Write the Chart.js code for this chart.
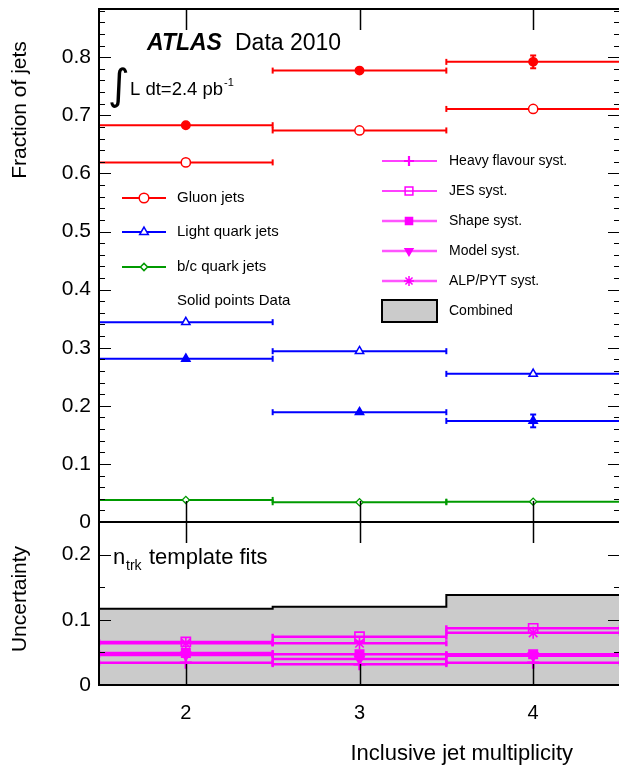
<!DOCTYPE html>
<html><head><meta charset="utf-8">
<script src="https://cdn.jsdelivr.net/npm/chart.js@4.4.1/dist/chart.umd.min.js"></script>
<style>
html,body{margin:0;padding:0;overflow:hidden;background:#fff;width:619px;height:766px}
#wrap{position:absolute;left:0;top:0;width:621px;height:766px}
</style></head>
<body><div id="wrap"><canvas id="c" width="621" height="766"></canvas></div>
<script>
// ---- data ----
const binEdges = [1.5, 2.5, 3.5, 4.5];
const binCenters = [2, 3, 4];
const xTickLabels = ['2', '3', '4'];
const yTopTicks = [0, 0.1, 0.2, 0.3, 0.4, 0.5, 0.6, 0.7, 0.8];
const yTopTickLabels = ['0', '0.1', '0.2', '0.3', '0.4', '0.5', '0.6', '0.7', '0.8'];
const yBotTicks = [0, 0.1, 0.2];
const yBotTickLabels = ['0', '0.1', '0.2'];

const gluonData = [0.683, 0.777, 0.792];
const gluonDataErr = [0, 0, 0.011];
const gluonMC = [0.619, 0.674, 0.711];
const lightData = [0.281, 0.189, 0.174];
const lightDataErr = [0, 0, 0.011];
const lightMC = [0.344, 0.294, 0.255];
const bcMC = [0.038, 0.034, 0.035];

const hfSyst = [0.034, 0.032, 0.034];
const jesSyst = [0.066, 0.074, 0.087];
const shapeSyst = [0.049, 0.047, 0.047];
const modelSyst = [0.046, 0.040, 0.045];
const alpSyst = [0.064, 0.064, 0.080];
const combinedSyst = [0.117, 0.120, 0.138];

// ---- helpers ----
const FONT = '"Liberation Sans", Arial, Helvetica, sans-serif';
const RED = '#ff0000', BLUE = '#0000ff', GREEN = '#009a00', MAG = '#ff00ff', MAG2 = '#ff55ff';

function binLines(vals) {
  const d = [];
  vals.forEach((v, i) => { d.push({x: binEdges[i], y: v}, {x: binEdges[i + 1], y: v}, {x: binEdges[i + 1], y: null}); });
  return d;
}
function centers(vals) { return vals.map((v, i) => ({x: binCenters[i], y: v})); }
function vErr(vals, errs) {
  const d = [];
  vals.forEach((v, i) => { if (errs[i] > 0) d.push({x: binCenters[i], y: v - errs[i]}, {x: binCenters[i], y: v + errs[i]}, {x: binCenters[i], y: null}); });
  return d;
}
function stepData(vals) {
  const d = [];
  vals.forEach((v, i) => { d.push({x: binEdges[i], y: v}, {x: binEdges[i + 1], y: v}); });
  return d;
}
function hbar(vals, color, axis, w) {
  return {type: 'line', data: binLines(vals), yAxisID: axis, borderColor: color, backgroundColor: color,
    borderWidth: w || 2, pointStyle: 'line', pointRotation: 90, pointRadius: 3, pointBorderWidth: w || 2,
    pointBorderColor: color, spanGaps: false, fill: false, tension: 0};
}
function vbar(vals, errs, color, axis) {
  return {type: 'line', data: vErr(vals, errs), yAxisID: axis, borderColor: color, borderWidth: 2,
    pointStyle: 'line', pointRotation: 0, pointRadius: 3, pointBorderWidth: 2, pointBorderColor: color,
    spanGaps: false, fill: false};
}
function marks(vals, color, axis, style, r, fillColor, rot, bw) {
  return {type: 'line', showLine: false, data: centers(vals), yAxisID: axis, pointStyle: style,
    pointRadius: r, pointRotation: rot || 0, pointBackgroundColor: fillColor, pointBorderColor: color,
    pointBorderWidth: bw || 1.5};
}

const datasets = [
  // markers (drawn on top)
  marks(gluonData, RED, 'yTop', 'circle', 4.2, RED),
  marks(gluonMC, RED, 'yTop', 'circle', 4.6, '#ffffff'),
  marks(lightData, BLUE, 'yTop', 'triangle', 4.8, BLUE),
  marks(lightMC, BLUE, 'yTop', 'triangle', 4.8, '#ffffff'),
  marks(bcMC, GREEN, 'yTop', 'rectRot', 3.6, '#ffffff', 0, 1.3),
  marks(hfSyst, MAG, 'yBot', 'cross', 6, 'rgba(0,0,0,0)', 0, 2.5),
  marks(jesSyst, MAG, 'yBot', 'rect', 6.5, 'rgba(0,0,0,0)', 0, 1.6),
  marks(shapeSyst, MAG, 'yBot', 'rect', 6, MAG),
  marks(modelSyst, MAG, 'yBot', 'triangle', 5.5, MAG, 180),
  marks(alpSyst, MAG, 'yBot', 'star', 6, 'rgba(0,0,0,0)', 0, 1.6),
  // error bars
  vbar(gluonData, gluonDataErr, RED, 'yTop'),
  vbar(lightData, lightDataErr, BLUE, 'yTop'),
  hbar(gluonData, RED, 'yTop'),
  hbar(gluonMC, RED, 'yTop'),
  hbar(lightData, BLUE, 'yTop'),
  hbar(lightMC, BLUE, 'yTop'),
  hbar(bcMC, GREEN, 'yTop'),
  hbar(hfSyst, MAG, 'yBot', 2.5),
  hbar(jesSyst, MAG, 'yBot', 2.5),
  hbar(shapeSyst, MAG, 'yBot', 2.5),
  hbar(modelSyst, MAG, 'yBot', 2.5),
  hbar(alpSyst, MAG, 'yBot', 2.5),
  // combined band (drawn first)
  {type: 'line', data: stepData(combinedSyst), yAxisID: 'yBot', borderColor: '#000000', borderWidth: 2,
    backgroundColor: '#cbcbcb', fill: 'origin', pointRadius: 0, tension: 0}
];

function txt(ctx, s, x, y, font, align, base) {
  ctx.font = font; ctx.textAlign = align || 'left'; ctx.textBaseline = base || 'alphabetic';
  ctx.fillStyle = '#000'; ctx.fillText(s, x, y);
}
function pt(ctx, style, r, rot, x, y, fill, stroke, bw) {
  ctx.save(); ctx.fillStyle = fill; ctx.strokeStyle = stroke; ctx.lineWidth = bw;
  if (Chart.helpers && Chart.helpers.drawPoint) {
    Chart.helpers.drawPoint(ctx, {pointStyle: style, radius: r, rotation: rot, borderWidth: bw}, x, y);
  } else { ctx.beginPath(); ctx.arc(x, y, r, 0, Math.PI * 2); ctx.fill(); ctx.stroke(); }
  ctx.restore();
}
function line(ctx, x1, y1, x2, y2, color, w) {
  ctx.beginPath(); ctx.strokeStyle = color; ctx.lineWidth = w; ctx.moveTo(x1, y1); ctx.lineTo(x2, y2); ctx.stroke();
}

const frameAndText = {
  id: 'frameAndText',
  afterDatasetsDraw(chart) {
    const ctx = chart.ctx, ca = chart.chartArea;
    const yT = chart.scales.yTop, yB = chart.scales.yBot, x = chart.scales.x;
    ctx.save();
    function yticks(scale, minorStep, max) {
      const n = Math.round(max / minorStep);
      for (let i = 0; i <= n; i++) {
        const v = i * minorStep;
        const isMajor = Math.abs(v * 10 - Math.round(v * 10)) < 1e-6;
        const len = isMajor ? 12 : 6;
        const p = Math.round(scale.getPixelForValue(v)) + 0.5;
        if (p < scale.top - 0.5 || p > scale.bottom + 1) continue;
        line(ctx, ca.left, p, ca.left + len, p, '#000', 1);
        line(ctx, ca.right, p, ca.right - len, p, '#000', 1);
      }
    }
    yticks(yT, 0.02, 0.88);
    yticks(yB, 0.05, 0.25);
    binCenters.forEach(v => {
      const p = Math.round(x.getPixelForValue(v)) + 0.5;
      line(ctx, p, yT.top, p, yT.top + 21, '#000', 1.5);
      line(ctx, p, yT.bottom, p, yT.bottom - 21, '#000', 1.5);
      line(ctx, p, yB.top, p, yB.top + 21, '#000', 1.5);
      line(ctx, p, yB.bottom, p, yB.bottom - 21, '#000', 1.5);
    });
    ctx.lineWidth = 2; ctx.strokeStyle = '#000';
    ctx.strokeRect(ca.left, yT.top, ca.right - ca.left, yT.bottom - yT.top);
    ctx.strokeRect(ca.left, yB.top, ca.right - ca.left, yB.bottom - yB.top);
    ctx.restore();
  },
  afterDraw(chart) {
    const ctx = chart.ctx;
    ctx.save();
    ctx.save(); ctx.translate(26, 110); ctx.rotate(-Math.PI / 2);
    txt(ctx, 'Fraction of jets', 0, 0, '21px ' + FONT, 'center'); ctx.restore();
    ctx.save(); ctx.translate(26, 599); ctx.rotate(-Math.PI / 2);
    txt(ctx, 'Uncertainty', 0, 0, '21px ' + FONT, 'center'); ctx.restore();
    txt(ctx, 'Inclusive jet multiplicity', 573, 760, '22px ' + FONT, 'right');
    txt(ctx, 'ATLAS', 147, 50, 'italic bold 23px ' + FONT);
    txt(ctx, 'Data 2010', 235, 50, '23px ' + FONT);
    txt(ctx, '\u222B', 108, 99, '42px "DejaVu Sans"');
    txt(ctx, 'L dt=2.4 pb', 130, 95, '18.5px ' + FONT);
    txt(ctx, '-1', 224, 86, '11px ' + FONT);
    txt(ctx, 'n', 113, 564, '22px ' + FONT);
    txt(ctx, 'trk', 126, 570, '14px ' + FONT);
    txt(ctx, 'template fits', 149, 564, '22px ' + FONT);
    const L = [
      ['Gluon jets', RED, 'circle', 4.8, 0, 198],
      ['Light quark jets', BLUE, 'triangle', 5, 0, 232],
      ['b/c quark jets', GREEN, 'rectRot', 3.6, 0, 267]
    ];
    L.forEach(r => {
      line(ctx, 122, r[5], 166, r[5], r[1], 2);
      pt(ctx, r[2], r[3], r[4], 144, r[5], '#ffffff', r[1], 1.5);
      txt(ctx, r[0], 177, r[5], '15px ' + FONT, 'left', 'middle');
    });
    txt(ctx, 'Solid points Data', 177, 301, '15px ' + FONT, 'left', 'middle');
    const R = [
      ['Heavy flavour syst.', 'cross', 5, 0, 'rgba(0,0,0,0)', 161, MAG, 1.5, 2.2],
      ['JES syst.', 'rect', 5.5, 0, 'rgba(0,0,0,0)', 191, MAG, 1.5, 1.5],
      ['Shape syst.', 'rect', 5, 0, MAG, 221, MAG2, 2.5, 1.5],
      ['Model syst.', 'triangle', 4.5, 180, MAG, 251, MAG2, 2.5, 1.5],
      ['ALP/PYT syst.', 'star', 5, 0, 'rgba(0,0,0,0)', 281, MAG2, 2.5, 1.5]
    ];
    R.forEach(r => {
      line(ctx, 382, r[5], 437, r[5], r[6], r[7]);
      pt(ctx, r[1], r[2], r[3], 409, r[5], r[4], MAG, r[8]);
      txt(ctx, r[0], 449, r[5], '14px ' + FONT, 'left', 'middle');
    });
    ctx.fillStyle = '#cbcbcb'; ctx.fillRect(382, 300, 55, 22);
    ctx.lineWidth = 2; ctx.strokeStyle = '#000'; ctx.strokeRect(382, 300, 55, 22);
    txt(ctx, 'Combined', 449, 311, '14px ' + FONT, 'left', 'middle');
    ctx.restore();
  }
};

new Chart(document.getElementById('c'), {
  data: {datasets},
  options: {
    responsive: false, animation: false, events: [],
    layout: {padding: {top: 9, left: 0, right: 1, bottom: 0}, autoPadding: false},
    plugins: {legend: {display: false}, tooltip: {enabled: false}},
    scales: {
      x: {type: 'linear', position: 'bottom', min: 1.5, max: 4.5,
        afterBuildTicks: s => { s.ticks = binCenters.map(v => ({value: v})); },
        ticks: {callback: (v, i) => xTickLabels[i], font: {family: FONT, size: 20}, color: '#000', padding: 16,
          maxRotation: 0, autoSkip: false},
        grid: {display: false, drawTicks: false}, border: {display: false},
        afterFit: s => { s.height = 81; s.paddingLeft = 0; s.paddingRight = 0; }},
      yBot: {type: 'linear', position: 'left', stack: 'p', stackWeight: 163, weight: 1, min: 0, max: 0.25,
        afterBuildTicks: s => { s.ticks = yBotTicks.map(v => ({value: v})); },
        ticks: {callback: (v, i) => yBotTickLabels[i], font: {family: FONT, size: 21}, color: '#000', padding: 8},
        grid: {display: false, drawTicks: false}, border: {display: false},
        afterFit: s => { s.width = 99; s.paddingTop = 0; s.paddingBottom = 0; }},
      yTop: {type: 'linear', position: 'left', stack: 'p', stackWeight: 513, weight: 2, min: 0, max: 0.883,
        afterBuildTicks: s => { s.ticks = yTopTicks.map(v => ({value: v})); },
        ticks: {callback: (v, i) => yTopTickLabels[i], font: {family: FONT, size: 21}, color: '#000', padding: 8},
        grid: {display: false, drawTicks: false}, border: {display: false},
        afterFit: s => { s.width = 99; s.paddingTop = 0; s.paddingBottom = 0; }}
    }
  },
  plugins: [frameAndText]
});
</script>
</body></html>
